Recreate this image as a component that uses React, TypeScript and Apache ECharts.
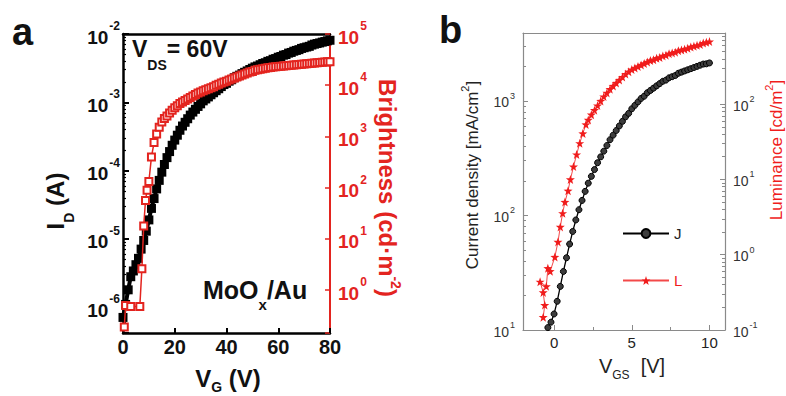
import React, { useEffect, useRef } from "react";
import * as echarts from "echarts";

// ---- panel a: transfer curve of the light-emitting transistor ----
const vgA = [
  0, 1, 2, 3, 4, 5, 6, 7, 8, 9, 10, 11, 12, 13, 14, 15, 16, 17, 18, 19, 20,
  21, 22, 23, 24, 25, 26, 27, 28, 29, 30, 31, 32, 33, 34, 35, 36, 37, 38, 39, 40,
  41, 42, 43, 44, 45, 46, 47, 48, 49, 50, 51, 52, 53, 54, 55, 56, 57, 58, 59, 60,
  61, 62, 63, 64, 65, 66, 67, 68, 69, 70, 71, 72, 73, 74, 75, 76, 77, 78, 79, 80,
];
const drainCurrent = [
  7.1e-7, 1.1e-6, 1.8e-6, 2.8e-6, 3.4e-6, 4.2e-6, 5.2e-6, 7.1e-6, 9.5e-6, 1.3e-5,
  1.9e-5, 2.8e-5, 3.9e-5, 5.4e-5, 7.2e-5, 9.5e-5, 1.23e-4, 1.55e-4, 1.9e-4, 2.35e-4,
  2.8e-4, 3.3e-4, 3.9e-4, 4.5e-4, 5.1e-4, 5.75e-4, 6.5e-4, 7.2e-4, 7.9e-4, 8.7e-4,
  9.5e-4, 1.05e-3, 1.12e-3, 1.2e-3, 1.29e-3, 1.38e-3, 1.48e-3, 1.58e-3, 1.7e-3, 1.82e-3,
  1.9e-3, 2.04e-3, 2.14e-3, 2.29e-3, 2.4e-3, 2.5e-3, 2.63e-3, 2.75e-3, 2.88e-3, 3.02e-3,
  3.16e-3, 3.3e-3, 3.4e-3, 3.55e-3, 3.7e-3, 3.8e-3, 3.98e-3, 4.07e-3, 4.27e-3, 4.37e-3,
  4.57e-3, 4.68e-3, 4.9e-3, 5.0e-3, 5.25e-3, 5.37e-3, 5.6e-3, 5.75e-3, 5.9e-3, 6.15e-3,
  6.3e-3, 6.45e-3, 6.6e-3, 6.9e-3, 7.1e-3, 7.25e-3, 7.4e-3, 7.6e-3, 7.75e-3, 7.95e-3,
  8.1e-3,
];
const vgBrightness = [
  0.5, 1, 3, 6.5, 7.3, 8, 8.7, 9.3, 10, 11, 12, 13, 14, 15, 16, 17, 18, 19, 20,
  21, 22, 23, 24, 25, 26, 27, 28, 29, 30, 31, 32, 33, 34, 35, 36, 37, 38, 39, 40,
  41, 42, 43, 44, 45, 46, 47, 48, 49, 50, 51, 52, 53, 54, 55, 56, 57, 58, 59, 60,
  61, 62, 63, 64, 65, 66, 67, 68, 69, 70, 71, 72, 73, 74, 75, 76, 77, 78, 79, 80,
];
const brightness = [
  0.19, 0.5, 0.48, 0.48, 2.6, 17.8, 56, 89, 132, 398, 759, 1120, 1510, 1910, 2240,
  2510, 2880, 3240, 3630, 3980, 4370, 4680, 5010, 5370, 5750, 6170, 6610, 7080, 7410,
  7760, 8130, 8510, 8910, 9330, 10000, 10500, 11000, 11500, 12000, 12600, 13200,
  13800, 14500, 15100, 15800, 16600, 17400, 18200, 18600, 19500, 20000, 20400, 20900,
  21400, 21900, 22200, 22600, 22900, 23100, 23400, 23700, 24000, 24300, 24500, 24800,
  25100, 25400, 25700, 26000, 26300, 26600, 26900, 27200, 27500, 27800, 28100, 28400,
  28600, 28800,
];

// ---- panel b: current density and luminance vs gate voltage ----
const vgsJ = [
  -0.4, -0.2, 0, 0.2, 0.4, 0.6, 0.8, 1.0, 1.2, 1.4, 1.6, 1.8, 2.0, 2.2, 2.4, 2.6, 2.8,
  3.0, 3.2, 3.4, 3.6, 3.8, 4.0, 4.2, 4.4, 4.6, 4.8, 5.0, 5.2, 5.4, 5.6, 5.8, 6.0, 6.2,
  6.4, 6.6, 6.8, 7.0, 7.2, 7.4, 7.6, 7.8, 8.0, 8.2, 8.4, 8.6, 8.8, 9.0, 9.2, 9.4, 9.6,
  9.8, 10.0,
];
const currentDensity = [
  10.5, 11.7, 13.8, 17.8, 24.0, 32.4, 42.7, 56.2, 72.4, 91.2, 112, 135, 162, 191, 219,
  251, 288, 324, 363, 407, 457, 501, 550, 603, 661, 724, 776, 851, 912, 977, 1047, 1096,
  1175, 1230, 1288, 1349, 1413, 1479, 1514, 1585, 1622, 1660, 1738, 1778, 1820, 1862,
  1905, 1950, 1995, 2042, 2089, 2100, 2138,
];
const vgsL = [
  -0.7, -0.6, -0.7, -0.9, -0.5, -0.4, -0.25, 0.05, 0.25, 0.4, 0.55, 0.7, 0.9, 1.05,
  1.25, 1.45, 1.65, 1.85, 2.05, 2.2, 2.4, 2.6, 2.8, 3.0, 3.2, 3.4, 3.6, 3.8, 4.0, 4.2,
  4.4, 4.6, 4.8, 5.0, 5.2, 5.4, 5.6, 5.8, 6.0, 6.2, 6.4, 6.6, 6.8, 7.0, 7.2, 7.4, 7.6,
  7.8, 8.0, 8.2, 8.4, 8.6, 8.8, 9.0, 9.2, 9.4, 9.6, 9.8, 10.0,
];
const luminance = [
  0.148, 0.214, 0.316, 0.437, 0.38, 0.661, 0.603, 0.933, 1.48, 2.34, 3.55, 5.01, 7.08,
  10.0, 14.8, 21.4, 30.2, 40.7, 53.7, 61.7, 72.4, 83.2, 95.5, 110, 126, 141, 158, 174,
  191, 209, 229, 251, 269, 288, 302, 316, 331, 347, 363, 380, 389, 407, 417, 437, 447,
  468, 479, 490, 513, 525, 537, 550, 575, 589, 603, 617, 646, 661, 676,
];

const vgTicksB = [0, 5, 10];
const vgMinorTicksB = [2.5, 7.5];

const FONT = '"Liberation Sans", Arial, Helvetica, sans-serif';
const RED_A = "#e3241f";
const RED_B = "#f01c1c";
const GREY = "#8a8a8a";
const STAR =
  "path://M0,-10L2.35,-3.24L9.51,-3.09L3.8,1.24L5.88,8.09L0,4L-5.88,8.09L-3.8,1.24L-9.51,-3.09L-2.35,-3.24Z";

// "10^n" tick labels, only at whole decades
function decadeLabel(v: number): string {
  const e = Math.log10(v);
  const r = Math.round(e);
  if (Math.abs(e - r) > 1e-6) return "";
  return `{b|10}{s|${r}}`;
}

function decadeRich(color: string, size: number, supSize: number, bold: boolean, lift: number, drop: number) {
  const w = bold ? "bold" : "normal";
  return {
    b: { color, fontSize: size, fontWeight: w, fontFamily: FONT, lineHeight: size, padding: [drop, 0, 0, 0] },
    s: { color, fontSize: supSize, fontWeight: w, fontFamily: FONT, lineHeight: supSize, padding: [0, 0, lift, 1] },
  };
}

function pairs(xs: number[], ys: number[]) {
  return xs.map((x, i) => [x, ys[i]]);
}

function titleRich(color: string, size: number, smallSize: number, bold: boolean, subShift: number, supShift: number) {
  const w = bold ? "bold" : "normal";
  return {
    m: { fill: color, fontSize: size, fontWeight: w, fontFamily: FONT, lineHeight: size },
    sub: { fill: color, fontSize: smallSize, fontWeight: w, fontFamily: FONT, lineHeight: smallSize, padding: [subShift * 2, 0, 0, 0] },
    sup: { fill: color, fontSize: smallSize, fontWeight: w, fontFamily: FONT, lineHeight: smallSize, padding: [0, 0, supShift * 2, 0] },
  };
}

export default function App() {
  const ref = useRef<HTMLDivElement>(null);

  useEffect(() => {
    if (!ref.current) return;
    const chart = echarts.init(ref.current, null, { renderer: "svg" });

    const option: any = {
      animation: false,
      backgroundColor: "#ffffff",
      grid: [
        { left: 123, top: 34, width: 207, height: 299 },
        { left: 523, top: 33, width: 202, height: 297 },
      ],
      legend: {
        orient: "vertical",
        left: 617,
        top: 221,
        itemWidth: 46,
        itemHeight: 11,
        itemGap: 32,
        textStyle: { fontFamily: FONT, fontSize: 15, color: "#222" },
        data: [
          { name: "J", textStyle: { color: "#222" } },
          { name: "L", textStyle: { color: RED_B } },
        ],
      },
      xAxis: [
        {
          gridIndex: 0,
          type: "value",
          position: "bottom",
          min: 0,
          max: 80,
          interval: 20,
          axisLine: { onZero: false, lineStyle: { color: "#000", width: 2.5 } },
          axisTick: { inside: true, length: 5, lineStyle: { color: "#000", width: 2 } },
          splitLine: { show: false },
          axisLabel: { color: "#111", fontSize: 20, fontWeight: "bold", fontFamily: FONT, margin: 4 },
        },
        {
          gridIndex: 0,
          type: "value",
          position: "top",
          min: 0,
          max: 80,
          axisLine: { onZero: false, lineStyle: { color: "#000", width: 2.5 } },
          axisTick: { show: false },
          axisLabel: { show: false },
          splitLine: { show: false },
        },
        {
          gridIndex: 1,
          type: "value",
          position: "bottom",
          min: -2,
          max: 11,
          axisLine: { onZero: false, lineStyle: { color: GREY, width: 1.2 } },
          axisTick: { inside: true, length: 5, customValues: vgTicksB, lineStyle: { color: GREY } },
          splitLine: { show: false },
          axisLabel: { customValues: vgTicksB, color: "#222", fontSize: 15, fontFamily: FONT, margin: 5 },
        },
        {
          gridIndex: 1,
          type: "value",
          position: "top",
          min: -2,
          max: 11,
          axisLine: { onZero: false, lineStyle: { color: GREY, width: 1.2 } },
          axisTick: { show: false },
          axisLabel: { show: false },
          splitLine: { show: false },
        },
        {
          gridIndex: 1,
          type: "value",
          position: "bottom",
          offset: 0,
          min: -2,
          max: 11,
          axisLine: { show: false, onZero: false },
          axisTick: { inside: true, length: 3, customValues: vgMinorTicksB, lineStyle: { color: GREY } },
          axisLabel: { show: false },
          splitLine: { show: false },
        },
      ],
      yAxis: [
        {
          gridIndex: 0,
          type: "log",
          logBase: 10,
          position: "left",
          min: 4.2e-7,
          max: 1e-2,
          axisLine: { show: true, onZero: false, lineStyle: { color: "#000", width: 2.5 } },
          axisTick: { inside: true, length: 6, lineStyle: { color: "#000", width: 2 } },
          minorTick: { show: true, splitNumber: 9, length: 3, lineStyle: { color: "#000", width: 1.2 } },
          splitLine: { show: false },
          axisLabel: { formatter: decadeLabel, margin: 3, rich: decadeRich("#111", 19, 12, true, 16, 6) },
        },
        {
          gridIndex: 0,
          type: "log",
          logBase: 10,
          position: "right",
          min: 0.145,
          max: 1e5,
          axisLine: { show: true, onZero: false, lineStyle: { color: RED_A, width: 2 } },
          axisTick: { inside: true, length: 5, lineStyle: { color: RED_A, width: 1.5 } },
          minorTick: { show: false },
          splitLine: { show: false },
          axisLabel: { formatter: decadeLabel, margin: 8, rich: decadeRich(RED_A, 19, 12, true, 16, 6) },
        },
        {
          gridIndex: 1,
          type: "log",
          logBase: 10,
          position: "left",
          min: 10,
          max: 3900,
          axisLine: { show: true, onZero: false, lineStyle: { color: GREY, width: 1.2 } },
          axisTick: { inside: true, length: 5, lineStyle: { color: GREY } },
          minorTick: { show: true, splitNumber: 9, length: 3, lineStyle: { color: GREY } },
          splitLine: { show: false },
          axisLabel: { formatter: decadeLabel, margin: 8, rich: decadeRich("#333", 14, 9, false, 10, 3) },
        },
        {
          gridIndex: 1,
          type: "log",
          logBase: 10,
          position: "right",
          min: 0.1,
          max: 880,
          axisLine: { show: true, onZero: false, lineStyle: { color: GREY, width: 1.2 } },
          axisTick: { inside: true, length: 5, lineStyle: { color: GREY } },
          minorTick: { show: true, splitNumber: 9, length: 3, lineStyle: { color: GREY } },
          splitLine: { show: false },
          axisLabel: { formatter: decadeLabel, margin: 8, rich: decadeRich("#333", 14, 9, false, 10, 3) },
        },
      ],
      series: [
        {
          name: "I_D",
          type: "line",
          xAxisIndex: 0,
          yAxisIndex: 0,
          data: pairs(vgA, drainCurrent),
          symbol: "rect",
          symbolSize: 9,
          itemStyle: { color: "#000" },
          lineStyle: { color: "#000", width: 4 },
          z: 2,
        },
        {
          name: "Brightness",
          type: "line",
          xAxisIndex: 0,
          yAxisIndex: 1,
          data: pairs(vgBrightness, brightness),
          symbol: "emptyRect",
          symbolSize: 7,
          itemStyle: { color: RED_A, borderWidth: 1.5 },
          lineStyle: { color: RED_A, width: 1.5 },
          z: 3,
        },
        {
          name: "J",
          type: "line",
          xAxisIndex: 2,
          yAxisIndex: 2,
          data: pairs(vgsJ, currentDensity),
          symbol: "circle",
          symbolSize: 6,
          itemStyle: { color: "#3c3c3c", borderColor: "#000", borderWidth: 1 },
          lineStyle: { color: "#000", width: 1.3 },
          z: 2,
        },
        {
          name: "L",
          type: "line",
          xAxisIndex: 2,
          yAxisIndex: 3,
          data: pairs(vgsL, luminance),
          symbol: STAR,
          symbolSize: 9,
          itemStyle: { color: RED_B },
          lineStyle: { color: RED_B, width: 1, opacity: 0.8 },
          z: 3,
        },
      ],
      graphic: [
        { type: "text", x: 12, y: 32, style: { text: "a", fill: "#111", fontSize: 38, fontWeight: "bold", fontFamily: FONT, align: "left", verticalAlign: "middle" } },
        { type: "text", x: 439, y: 30, style: { text: "b", fill: "#111", fontSize: 38, fontWeight: "bold", fontFamily: FONT, align: "left", verticalAlign: "middle" } },
        {
          type: "text", x: 132, y: 49, z: 10,
          style: { text: "{m|V}{sub|DS}{m|= 60V}", align: "left", verticalAlign: "middle", rich: titleRich("#111", 23, 14, true, 16, 0) },
        },
        {
          type: "text", x: 203, y: 290, z: 10,
          style: { text: "{m|MoO}{sub|x}{m|/Au}", align: "left", verticalAlign: "middle", rich: titleRich("#111", 25, 15, true, 14, 0) },
        },
        {
          type: "text", x: 228, y: 378,
          style: { text: "{m|V}{sub|G}{m| (V)}", align: "center", verticalAlign: "middle", rich: titleRich("#111", 24, 14, true, 9, 0) },
        },
        {
          type: "text", x: 55, y: 201, rotation: Math.PI / 2,
          style: { text: "{m|I}{sub|D}{m| (A)}", align: "center", verticalAlign: "middle", rich: titleRich("#111", 24, 14, true, 14, 0) },
        },
        {
          type: "text", x: 387, y: 188, rotation: -Math.PI / 2,
          style: { text: "{m|Brightness (cd·m}{sup|-2}{m|)}", align: "center", verticalAlign: "middle", rich: titleRich(RED_A, 24, 14, true, 0, 9) },
        },
        {
          type: "text", x: 472, y: 175, rotation: Math.PI / 2,
          style: { text: "{m|Current density [mA/cm}{sup|2}{m|]}", align: "center", verticalAlign: "middle", rich: titleRich("#222", 17, 11, false, 0, 7) },
        },
        {
          type: "text", x: 776, y: 150, rotation: Math.PI / 2,
          style: { text: "{m|Luminance [cd/m}{sup|2}{m|]}", align: "center", verticalAlign: "middle", rich: titleRich(RED_B, 17, 11, false, 0, 7) },
        },
        {
          type: "text", x: 632, y: 366,
          style: { text: "{m|V}{sub|GS}{m|  [V]}", align: "center", verticalAlign: "middle", rich: titleRich("#222", 20, 12, false, 9, 0) },
        },
      ],
    };

    chart.setOption(option);
    return () => chart.dispose();
  }, []);

  return (
    <div
      ref={ref}
      style={{ position: "fixed", left: 0, top: 0, width: 786, height: 396, background: "#fff" }}
    />
  );
}
